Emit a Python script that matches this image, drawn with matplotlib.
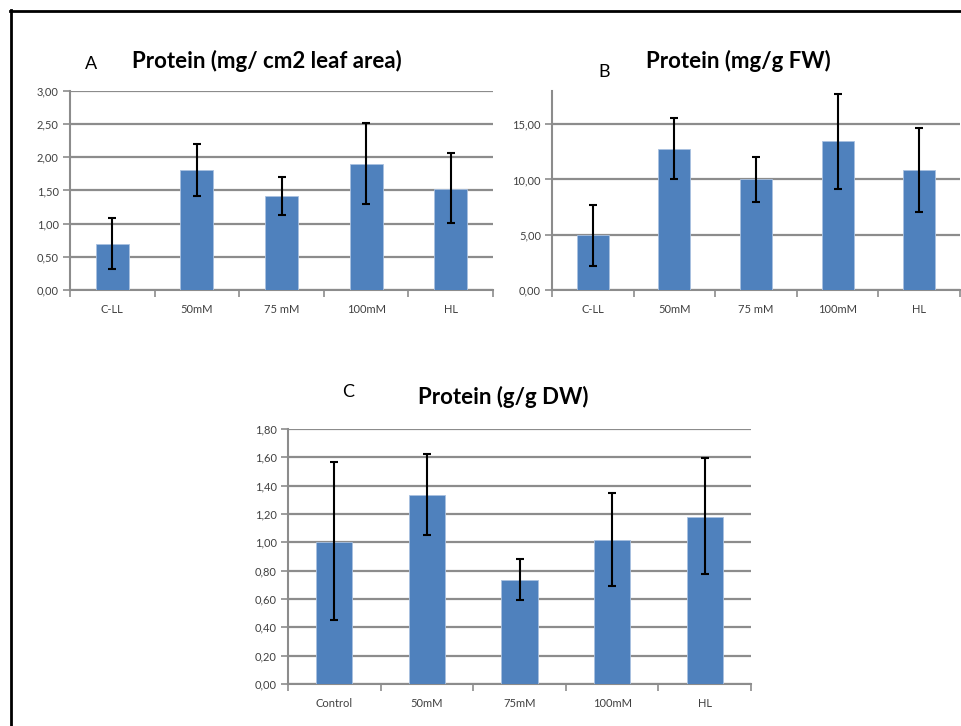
import numpy as np
import matplotlib.pyplot as plt
from matplotlib.lines import Line2D
from matplotlib.ticker import FuncFormatter, FixedLocator

plt.rcParams['font.family'] = ['Lato', 'DejaVu Sans']

# data
cats_ab = ["C-LL", "50mM", "75 mM", "100mM", "HL"]
cats_c = ["Control", "50mM", "75mM", "100mM", "HL"]

leaf_area = [0.69, 1.81, 1.42, 1.90, 1.53]
leaf_area_lo = [0.31, 1.42, 1.13, 1.29, 1.01]
leaf_area_hi = [1.08, 2.20, 1.70, 2.52, 2.07]

fresh_wt = [4.95, 12.75, 10.0, 13.45, 10.85]
fresh_wt_lo = [2.2, 10.05, 8.0, 9.1, 7.1]
fresh_wt_hi = [7.65, 15.55, 12.0, 17.75, 14.65]

dry_wt = [1.00, 1.335, 0.735, 1.015, 1.18]
dry_wt_lo = [0.45, 1.05, 0.59, 0.69, 0.775]
dry_wt_hi = [1.57, 1.625, 0.885, 1.345, 1.595]

BAR = "#4F81BD"
GRID = "#8c8c8c"

fig = plt.figure(figsize=(9.62, 7.26), dpi=100)


def panel(rect, cats, vals, lo, hi, ymax, yticks, title, letter, title_xy, letter_xy):
    ax = fig.add_axes(rect)
    x = np.arange(len(cats))
    err = [np.array(vals) - np.array(lo), np.array(hi) - np.array(vals)]
    ax.bar(x, vals, width=0.39, color=BAR, edgecolor="#a9c1e0", linewidth=0.6, zorder=3)
    ax.errorbar(x, vals, yerr=err, fmt="none", ecolor="black", elinewidth=1.5,
                capsize=3, capthick=1.5, zorder=4)
    ax.set_xlim(-0.5, len(cats) - 0.5)
    ax.set_ylim(0, ymax)
    ax.yaxis.set_major_locator(FixedLocator(yticks))
    ax.yaxis.set_major_formatter(FuncFormatter(lambda v, p: f"{v:.2f}".replace(".", ",")))
    ax.set_xticks(x)
    ax.set_xticklabels(cats)
    ax.set_xticks(np.arange(len(cats) + 1) - 0.5, minor=True)
    ax.tick_params(axis="x", which="major", length=0, labelsize=8, labelcolor="#404040", pad=10)
    ax.tick_params(axis="x", which="minor", length=5, color=GRID, width=1.2)
    ax.tick_params(axis="y", length=5, color=GRID, width=1.2, labelsize=8,
                   labelcolor="#404040", pad=3)
    ax.grid(axis="y", color=GRID, linewidth=1.6, zorder=0)
    for s in ("top", "right"):
        ax.spines[s].set_visible(False)
    for s in ("left", "bottom"):
        ax.spines[s].set_color(GRID)
        ax.spines[s].set_linewidth(1.5)
    fig.text(title_xy[0] / 962, 1 - title_xy[1] / 726, title, ha="center", va="center",
             fontsize=16, fontweight="bold")
    fig.text(letter_xy[0] / 962, 1 - letter_xy[1] / 726, letter, ha="center", va="center",
             fontsize=13)
    return ax


panel([70 / 962, 1 - 290 / 726, 423 / 962, 199 / 726], cats_ab, leaf_area, leaf_area_lo,
      leaf_area_hi, 3.0, np.arange(0, 3.01, 0.5), "Protein (mg/ cm2 leaf area)", "A",
      (267, 61), (91, 64))
panel([552 / 962, 1 - 290 / 726, 408 / 962, 199 / 726], cats_ab, fresh_wt, fresh_wt_lo,
      fresh_wt_hi, 18.0, [0, 5, 10, 15], "Protein (mg/g FW)", "B",
      (738, 61), (604, 72))
panel([288 / 962, 1 - 684 / 726, 463 / 962, 255 / 726], cats_c, dry_wt, dry_wt_lo,
      dry_wt_hi, 1.8, np.arange(0, 1.81, 0.2), "Protein (g/g DW)", "C",
      (503, 397), (348, 392))

# outer frame (top and left edges only)
fig.add_artist(Line2D([10 / 962, 1.0], [1 - 11 / 726, 1 - 11 / 726], color="black", linewidth=2))
fig.add_artist(Line2D([11 / 962, 11 / 962], [0, 1 - 10 / 726], color="black", linewidth=2))

fig.savefig("out.png", dpi=100)
